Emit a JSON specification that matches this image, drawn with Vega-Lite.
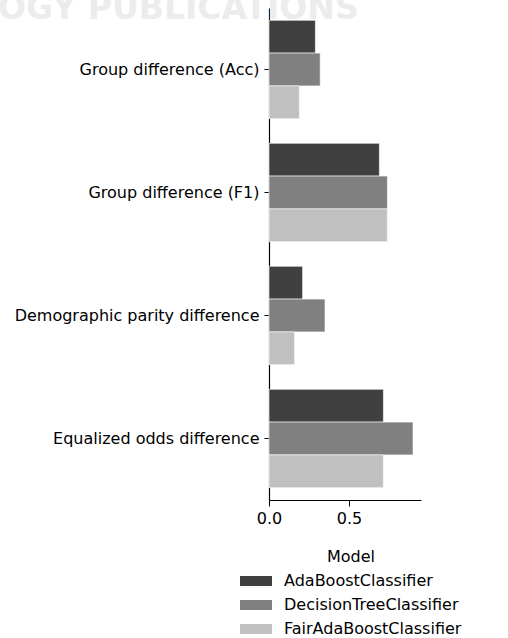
{
  "$schema": "https://vega.github.io/schema/vega-lite/v6.json",
  "width": 152,
  "height": 492,
  "autosize": {"type": "none"},
  "padding": {"left": 269, "top": 8, "right": 87, "bottom": 138},
  "background": "white",
  "title": {
    "text": "OGY PUBLICATIONS",
    "orient": "top",
    "anchor": "start",
    "frame": "group",
    "font": "DejaVu Sans",
    "fontSize": 33,
    "fontWeight": "bold",
    "color": "#ececec",
    "baseline": "alphabetic",
    "offset": 0,
    "dx": -271,
    "dy": 44,
    "zindex": 0
  },
  "config": {
    "view": {"stroke": null},
    "font": "DejaVu Sans",
    "axis": {"labelFont": "DejaVu Sans", "labelColor": "black", "domainColor": "black", "tickColor": "black", "grid": false}
  },
  "data": {
    "values": [
      {"metric": "Group difference (Acc)", "model": "AdaBoostClassifier", "value": 0.29},
      {"metric": "Group difference (Acc)", "model": "DecisionTreeClassifier", "value": 0.32},
      {"metric": "Group difference (Acc)", "model": "FairAdaBoostClassifier", "value": 0.19},
      {"metric": "Group difference (F1)", "model": "AdaBoostClassifier", "value": 0.69},
      {"metric": "Group difference (F1)", "model": "DecisionTreeClassifier", "value": 0.74},
      {"metric": "Group difference (F1)", "model": "FairAdaBoostClassifier", "value": 0.74},
      {"metric": "Demographic parity difference", "model": "AdaBoostClassifier", "value": 0.21},
      {"metric": "Demographic parity difference", "model": "DecisionTreeClassifier", "value": 0.35},
      {"metric": "Demographic parity difference", "model": "FairAdaBoostClassifier", "value": 0.16},
      {"metric": "Equalized odds difference", "model": "AdaBoostClassifier", "value": 0.715},
      {"metric": "Equalized odds difference", "model": "DecisionTreeClassifier", "value": 0.9},
      {"metric": "Equalized odds difference", "model": "FairAdaBoostClassifier", "value": 0.715}
    ]
  },
  "mark": {"type": "bar", "stroke": "white", "strokeWidth": 0.6},
  "encoding": {
    "y": {
      "field": "metric",
      "type": "nominal",
      "sort": null,
      "scale": {"paddingInner": 0.2, "paddingOuter": 0.1},
      "axis": {"title": null, "labelFontSize": 16, "labelLimit": 300, "tickSize": 5, "labelPadding": 5, "domainWidth": 1.2}
    },
    "yOffset": {
      "field": "model",
      "type": "nominal",
      "sort": null,
      "scale": {"paddingInner": 0, "paddingOuter": 0}
    },
    "x": {
      "field": "value",
      "type": "quantitative",
      "scale": {"domain": [0, 0.95], "nice": false},
      "axis": {"title": null, "values": [0, 0.5], "format": ".1f", "labelFontSize": 16, "tickSize": 6, "labelPadding": 4, "domainWidth": 1.2, "labelFlush": false}
    },
    "color": {
      "field": "model",
      "type": "nominal",
      "sort": null,
      "scale": {"range": ["#404040", "#808080", "#c0c0c0"]},
      "legend": {
        "title": "Model",
        "orient": "none",
        "legendX": -29,
        "legendY": 541,
        "titleAnchor": "middle",
        "titleFontSize": 16,
        "titleFontWeight": "normal",
        "titleColor": "black",
        "titlePadding": 0,
        "labelFontSize": 16,
        "labelColor": "black",
        "labelLimit": 300,
        "symbolType": "M-1,-0.3125H1V0.3125H-1Z",
        "symbolSize": 1024,
        "symbolStrokeWidth": 0,
        "rowPadding": 0,
        "labelOffset": 12
      }
    }
  }
}
